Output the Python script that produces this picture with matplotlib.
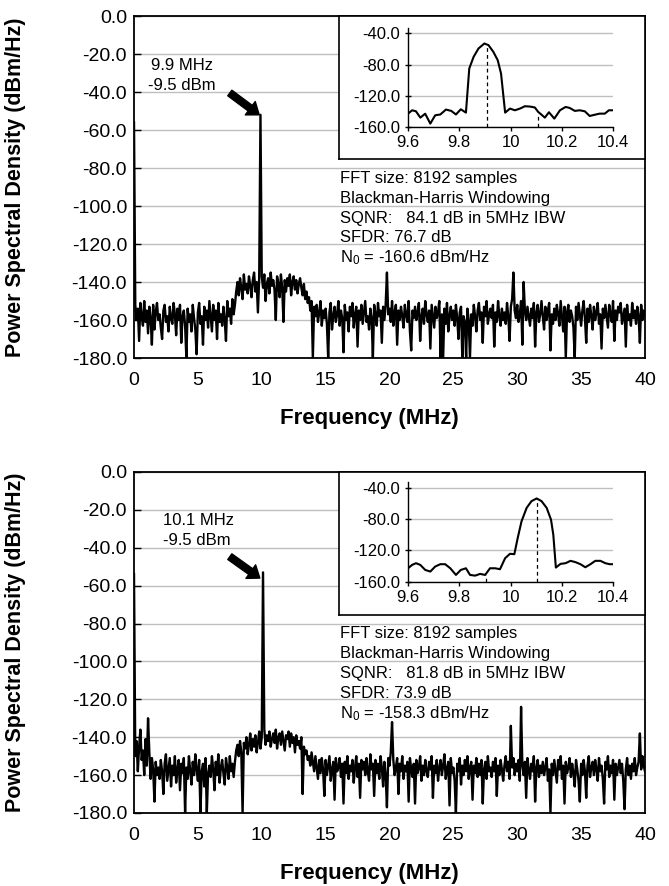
import numpy as np
import matplotlib.pyplot as plt
from matplotlib.ticker import MultipleLocator, FormatStrFormatter

plt.rcParams['font.family'] = ['Liberation Sans', 'DejaVu Sans']
plt.rcParams['axes.unicode_minus'] = False
plt.rcParams['mathtext.default'] = 'regular'

# spectrum, one value per 0.1 MHz (0.0 ... 40.0)
step_mhz = 0.1

top_psd = [
    -56, -152, -160, -154, -171, -151, -158, -163, -150, -161,
    -155, -167, -153, -159, -173, -152, -165, -156, -151, -160,
    -157, -164, -170, -155, -152, -161, -158, -166, -153, -159,
    -162, -151, -157, -168, -154, -160, -152, -172, -158, -155,
    -163, -180, -154, -161, -157, -166, -152, -159, -165, -178,
    -156, -151, -162, -158, -173, -153, -160, -155, -164, -150,
    -158, -166, -152, -160, -155, -170, -151, -161, -157, -163,
    -153, -160, -171, -150, -158, -154, -162, -149, -157, -152,
    -145, -140, -147, -138, -143, -149, -136, -144, -141, -146,
    -137, -142, -148, -139, -135, -145, -140, -156, -138, -52,
    -137, -143, -136, -150, -141, -138, -146, -135, -142, -139,
    -144, -160, -137, -141, -148, -136, -143, -161, -139, -145,
    -138, -142, -136, -147, -140, -137, -144, -139, -146, -141,
    -138, -143, -147, -141, -149, -145, -151, -148, -155, -150,
    -180, -153, -158, -152, -161, -156, -150, -163, -155, -159,
    -154, -162, -180, -156, -151, -165, -158, -153, -161, -157,
    -150, -163, -155, -159, -177, -152, -160, -156, -166, -153,
    -158, -151, -164, -157, -153, -174, -155, -160, -152, -162,
    -156, -150, -161, -158, -165, -154, -159, -180, -152, -157,
    -163, -151, -158, -155, -172, -153, -160, -152, -135, -157,
    -154, -161, -150, -163, -156, -152, -173, -155, -160, -153,
    -158, -164, -152, -157, -161, -150, -166, -176, -155, -159,
    -153, -160, -156, -151, -171, -158, -154, -162, -150, -157,
    -161, -155, -175, -152, -158, -164, -153, -159, -156, -150,
    -180, -157, -180, -154, -162, -151, -166, -158, -153, -160,
    -155, -163, -152, -159, -170, -156, -153, -180, -158, -161,
    -180, -154, -160, -180, -157, -163, -152, -158, -166, -155,
    -151, -160, -156, -172, -153, -158, -150, -162, -157, -154,
    -159, -152, -174, -156, -161, -150, -158, -163, -154, -160,
    -156, -162, -151, -158, -171, -153, -149, -135, -155, -159,
    -152, -161, -157, -150, -173, -140, -155, -160, -153, -158,
    -163, -154, -159, -151, -174, -156, -152, -161, -157, -150,
    -158, -165, -153, -160, -155, -151, -176, -157, -162, -154,
    -160, -152, -157, -163, -150, -158, -166, -153, -180, -156,
    -152, -161, -155, -158, -164, -180, -153, -160, -151, -157,
    -163, -155, -150, -159, -172, -154, -161, -152, -158, -165,
    -153, -160, -156, -151, -162, -157, -175, -154, -159, -152,
    -158, -164, -152, -157, -161, -150, -171, -155, -160, -153,
    -156, -151, -162, -158, -154, -174, -152, -160, -157, -163,
    -151, -159, -155, -162, -153, -158, -172, -152, -160, -155,
    -158,
]

bot_psd = [
    -54, -150, -142, -158, -145, -136, -152, -147, -160, -141,
    -155, -130, -148, -162, -151, -157, -174, -153, -160, -156,
    -162, -152, -158, -170, -154, -149, -163, -157, -151, -166,
    -155, -160, -150, -164, -157, -152, -168, -154, -159, -151,
    -180, -156, -162, -150, -158, -165, -153, -160, -149, -157,
    -163, -152, -180, -158, -154, -166, -151, -180, -159, -155,
    -161, -150, -157, -168, -153, -160, -149, -164, -156, -152,
    -159, -165, -151, -156, -162, -150, -158, -154, -161, -153,
    -147, -144, -150, -142, -148, -180, -143, -146, -140, -149,
    -144, -138, -147, -141, -145, -139, -148, -143, -137, -146,
    -140, -53, -136, -144, -139, -142, -137, -145, -141, -138,
    -143, -136, -146, -140, -138, -144, -137, -142, -147, -139,
    -141, -137, -145, -138, -143, -140, -148, -139, -144, -142,
    -146, -140, -170, -145, -149, -147, -152, -150, -155, -148,
    -153, -158, -150, -156, -162, -152, -159, -151, -157, -171,
    -152, -160, -155, -150, -163, -157, -153, -173, -151, -158,
    -156, -151, -161, -154, -175, -153, -159, -150, -162, -155,
    -158, -152, -164, -156, -150, -161, -154, -172, -152, -157,
    -153, -160, -151, -158, -163, -149, -157, -154, -171, -152,
    -159, -154, -162, -150, -156, -166, -153, -160, -177, -151,
    -155, -148, -132, -152, -160, -156, -151, -170, -154, -158,
    -150, -162, -155, -158, -153, -174, -151, -157, -161, -154,
    -175, -152, -159, -156, -150, -163, -155, -160, -152, -158,
    -161, -153, -157, -150, -172, -155, -159, -152, -163, -156,
    -152, -160, -155, -149, -162, -157, -153, -176, -151, -159,
    -156, -163, -180, -154, -158, -151, -165, -155, -160, -152,
    -158, -150, -162, -156, -153, -173, -155, -159, -151, -161,
    -154, -160, -152, -175, -157, -153, -162, -150, -158, -156,
    -161, -153, -158, -151, -171, -155, -160, -152, -157, -163,
    -155, -150, -158, -153, -162, -134, -156, -151, -160, -154,
    -158, -152, -163, -124, -155, -160, -153, -172, -151, -157,
    -162, -154, -158, -150, -174, -156, -152, -161, -155, -159,
    -153, -160, -156, -151, -163, -157, -180, -154, -160, -152,
    -158, -164, -152, -157, -150, -162, -155, -175, -153, -159,
    -156, -151, -161, -154, -159, -166, -152, -157, -163, -174,
    -154, -160, -152, -158, -172, -155, -150, -161, -156, -153,
    -160, -152, -157, -163, -151, -158, -155, -162, -175, -153,
    -157, -150, -161, -155, -159, -152, -173, -154, -160, -156,
    -152, -159, -154, -163, -178, -157, -151, -160, -155, -162,
    -154, -158, -151, -160, -156, -153, -138, -157, -150, -155,
    -158,
]

# zoomed view around the tone
top_zoom_f = [9.600, 9.616, 9.631, 9.648, 9.667, 9.687, 9.706, 9.726, 9.748, 9.769,
              9.787, 9.806, 9.826, 9.839, 9.856, 9.875, 9.898, 9.914, 9.933, 9.950,
              9.963, 9.979, 9.998, 10.017, 10.037, 10.056, 10.076, 10.095, 10.108, 10.119,
              10.134, 10.150, 10.171, 10.193, 10.215, 10.231, 10.251, 10.270, 10.290, 10.309,
              10.329, 10.348, 10.368, 10.384, 10.400]
top_zoom_db = [-142.9, -138.6, -139.9, -148.0, -143.0, -155.7, -145.0, -144.0, -137.7, -139.4,
               -144.0, -137.3, -141.6, -85.0, -70.0, -59.3, -52.9, -55.0, -63.6, -74.3,
               -91.4, -141.6, -136.4, -138.6, -136.4, -133.4, -133.8, -135.0, -140.7, -143.7,
               -148.0, -141.1, -149.3, -138.6, -134.3, -135.6, -139.4, -138.6, -139.9, -145.9,
               -144.3, -142.9, -142.9, -138.6, -138.6]

bot_zoom_f = [9.600, 9.616, 9.631, 9.648, 9.667, 9.687, 9.706, 9.726, 9.745, 9.765,
              9.787, 9.806, 9.826, 9.842, 9.862, 9.881, 9.901, 9.920, 9.940, 9.959,
              9.979, 9.998, 10.015, 10.028, 10.043, 10.063, 10.082, 10.102, 10.121, 10.141,
              10.158, 10.167, 10.177, 10.195, 10.215, 10.234, 10.253, 10.273, 10.292, 10.312,
              10.331, 10.351, 10.370, 10.387, 10.400]
bot_zoom_db = [-142.9, -138.6, -136.4, -138.6, -145.0, -147.1, -140.7, -137.7, -137.7, -142.9,
               -151.4, -145.0, -142.9, -151.4, -152.3, -150.1, -151.4, -142.9, -142.9, -144.1,
               -130.0, -124.4, -124.9, -104.3, -82.9, -65.7, -57.1, -53.7, -57.1, -65.7,
               -80.7, -100.0, -142.0, -137.3, -136.4, -133.4, -135.0, -137.7, -141.6, -137.7,
               -133.4, -133.4, -136.4, -137.7, -137.7]

# dashed markers in the zoom: (freq, top of line)
top_marks = [(9.91, -52.9), (10.106, -146.0)]
bot_marks = [(10.102, -53.7), (9.905, -151.0)]

top_notes = ["FFT size: 8192 samples", "Blackman-Harris Windowing",
             "SQNR:   84.1 dB in 5MHz IBW", "SFDR: 76.7 dB", "N$_0$ = -160.6 dBm/Hz"]
bot_notes = ["FFT size: 8192 samples", "Blackman-Harris Windowing",
             "SQNR:   81.8 dB in 5MHz IBW", "SFDR: 73.9 dB", "N$_0$ = -158.3 dBm/Hz"]

grid_c = '#bfbfbf'
fig = plt.figure(figsize=(6.69, 8.86), dpi=100)


def draw_panel(main_rect, box_rect, inset_rect, psd, zf, zdb, marks, notes,
               tone_lines, tone_x, tone_ha, arrow_from, arrow_to):
    freq = np.arange(len(psd)) * step_mhz
    ax = fig.add_axes(main_rect)
    ax.plot(freq, psd, color='black', lw=1.7, zorder=3)
    ax.set_xlim(0, 40)
    ax.set_ylim(-180, 0)
    ax.xaxis.set_major_locator(MultipleLocator(5))
    ax.yaxis.set_major_locator(MultipleLocator(20))
    ax.yaxis.set_major_formatter(FormatStrFormatter('%.1f'))
    ax.grid(axis='y', color=grid_c, lw=1.0)
    ax.set_axisbelow(True)
    for s in ax.spines.values():
        s.set_linewidth(1.3)
    ax.tick_params(axis='y', direction='in', length=5, width=1.0, labelsize=14, pad=5)
    ax.tick_params(axis='x', length=0, labelsize=14, pad=10)
    ax.set_ylabel('Power Spectral Density (dBm/Hz)', fontsize=15.5, fontweight='bold')
    ax.yaxis.label.set_va('center')
    ax.yaxis.set_label_coords(-0.232, 0.5)
    ax.set_xlabel('Frequency (MHz)', fontsize=16, fontweight='bold')
    ax.xaxis.set_label_coords(0.46, -0.178)
    ax.xaxis.label.set_va('center')

    # tone label and arrow
    ax.text(tone_x, -25.8, tone_lines[0], fontsize=12, ha=tone_ha, va='center')
    ax.text(tone_x, -36.3, tone_lines[1], fontsize=12, ha=tone_ha, va='center')
    ax.annotate('', xy=arrow_to, xytext=arrow_from,
                arrowprops=dict(facecolor='black', edgecolor='black', width=5,
                                headwidth=12, headlength=8, shrink=0))

    for i, line in enumerate(notes):
        ax.text(16.1, -85.3 - 10.5 * i, line, fontsize=12, ha='left', va='center')

    # white box holding the zoomed view
    box = fig.add_axes(box_rect)
    box.set_xticks([])
    box.set_yticks([])
    box.set_facecolor('white')
    for s in box.spines.values():
        s.set_linewidth(1.2)

    ins = fig.add_axes(inset_rect)
    ins.patch.set_alpha(0)
    ins.plot(zf, zdb, color='black', lw=1.5)
    for f, top in marks:
        ins.plot([f, f], [-160, top], color='black', lw=0.9, ls=(0, (3, 2.5)))
    ins.set_xlim(9.6, 10.4)
    ins.set_ylim(-160, -33)
    ins.set_xticks([9.6, 9.8, 10.0, 10.2, 10.4])
    ins.set_xticklabels(['9.6', '9.8', '10', '10.2', '10.4'])
    ins.set_yticks([-160, -120, -80, -40])
    ins.yaxis.set_major_formatter(FormatStrFormatter('%.1f'))
    ins.grid(axis='y', color=grid_c, lw=1.0)
    ins.set_axisbelow(True)
    ins.spines['top'].set_visible(False)
    ins.spines['right'].set_visible(False)
    ins.spines['left'].set_linewidth(1.0)
    ins.spines['bottom'].set_linewidth(1.0)
    ins.tick_params(axis='x', direction='out', length=3, width=1.0, labelsize=12, pad=3)
    ins.tick_params(axis='y', direction='inout', length=5, width=1.0, labelsize=12, pad=3)


draw_panel([0.2003, 0.5959, 0.7638, 0.3860],
           [0.5067, 0.8205, 0.4574, 0.1614],
           [0.6099, 0.8567, 0.3064, 0.1117],
           top_psd, top_zoom_f, top_zoom_db, top_marks, top_notes,
           ['9.9 MHz', '-9.5 dBm'], 3.76, 'center', (7.5, -40.5), (9.8, -52))

draw_panel([0.2003, 0.0824, 0.7638, 0.3849],
           [0.5067, 0.3059, 0.4574, 0.1614],
           [0.6099, 0.3435, 0.3064, 0.1122],
           bot_psd, bot_zoom_f, bot_zoom_db, bot_marks, bot_notes,
           ['10.1 MHz', '-9.5 dBm'], 2.27, 'left', (7.5, -44.7), (9.85, -56))

fig.savefig('out.png', dpi=100)
